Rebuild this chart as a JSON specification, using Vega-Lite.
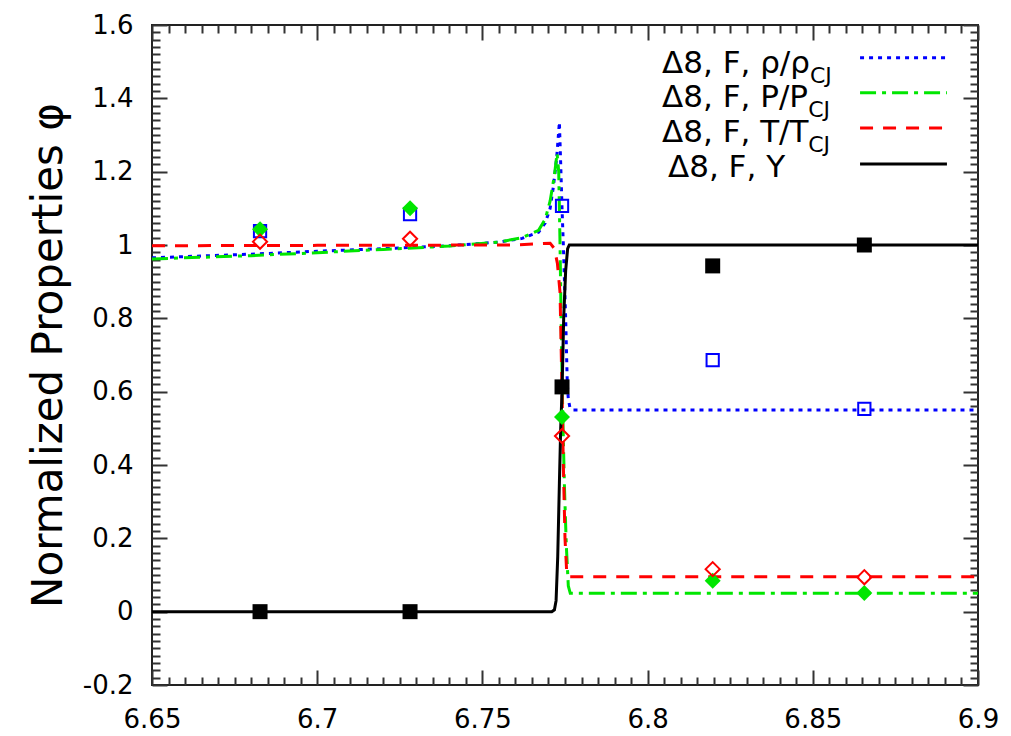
{
  "$schema": "https://vega.github.io/schema/vega-lite/v6.json",
  "width": 826,
  "height": 660,
  "autosize": {"type": "none"},
  "padding": {"left": 152, "top": 25, "right": 33, "bottom": 51},
  "background": "#ffffff",
  "config": {
    "view": {"stroke": "#222222", "strokeWidth": 2},
    "axis": {
      "domain": false,
      "ticks": true,
      "tickSize": 0,
      "tickOpacity": 0,
      "grid": true,
      "gridColor": "#333333",
      "gridWidth": 2,
      "gridOpacity": 1,
      "labelFont": "DejaVu Sans",
      "labelFontSize": 26,
      "labelColor": "#000000",
      "titleFont": "DejaVu Sans",
      "titleColor": "#000000",
      "labelFlush": false,
      "labelOverlap": false
    },
    "text": {"font": "DejaVu Sans", "color": "#000000"}
  },
  "datasets": {
    "curves": [
      {"s": "rho", "x": 6.65, "v": 0.965},
      {"s": "rho", "x": 6.68, "v": 0.975},
      {"s": "rho", "x": 6.70, "v": 0.983},
      {"s": "rho", "x": 6.72, "v": 0.99},
      {"s": "rho", "x": 6.74, "v": 0.998},
      {"s": "rho", "x": 6.755, "v": 1.008},
      {"s": "rho", "x": 6.762, "v": 1.018},
      {"s": "rho", "x": 6.767, "v": 1.035},
      {"s": "rho", "x": 6.769, "v": 1.06},
      {"s": "rho", "x": 6.7705, "v": 1.10},
      {"s": "rho", "x": 6.7715, "v": 1.16},
      {"s": "rho", "x": 6.7725, "v": 1.24},
      {"s": "rho", "x": 6.7733, "v": 1.335},
      {"s": "rho", "x": 6.7737, "v": 1.22},
      {"s": "rho", "x": 6.7741, "v": 1.10},
      {"s": "rho", "x": 6.7745, "v": 1.0},
      {"s": "rho", "x": 6.7752, "v": 0.8},
      {"s": "rho", "x": 6.7757, "v": 0.62},
      {"s": "rho", "x": 6.776, "v": 0.58},
      {"s": "rho", "x": 6.7765, "v": 0.556},
      {"s": "rho", "x": 6.7775, "v": 0.55},
      {"s": "rho", "x": 6.9, "v": 0.55},
      {"s": "P", "x": 6.65, "v": 0.962},
      {"s": "P", "x": 6.68, "v": 0.971},
      {"s": "P", "x": 6.70, "v": 0.979},
      {"s": "P", "x": 6.72, "v": 0.988},
      {"s": "P", "x": 6.74, "v": 0.997},
      {"s": "P", "x": 6.755, "v": 1.008},
      {"s": "P", "x": 6.762, "v": 1.02},
      {"s": "P", "x": 6.767, "v": 1.04},
      {"s": "P", "x": 6.769, "v": 1.07},
      {"s": "P", "x": 6.7705, "v": 1.12},
      {"s": "P", "x": 6.7718, "v": 1.19},
      {"s": "P", "x": 6.7726, "v": 1.25},
      {"s": "P", "x": 6.7731, "v": 1.2},
      {"s": "P", "x": 6.7735, "v": 1.0},
      {"s": "P", "x": 6.7739, "v": 0.75},
      {"s": "P", "x": 6.7743, "v": 0.55},
      {"s": "P", "x": 6.7748, "v": 0.35},
      {"s": "P", "x": 6.7754, "v": 0.18},
      {"s": "P", "x": 6.776, "v": 0.07},
      {"s": "P", "x": 6.7766, "v": 0.05},
      {"s": "P", "x": 6.9, "v": 0.05},
      {"s": "T", "x": 6.65, "v": 0.998},
      {"s": "T", "x": 6.70, "v": 0.999},
      {"s": "T", "x": 6.76, "v": 1.0},
      {"s": "T", "x": 6.7705, "v": 1.005},
      {"s": "T", "x": 6.7718, "v": 0.99},
      {"s": "T", "x": 6.7727, "v": 0.95},
      {"s": "T", "x": 6.7735, "v": 0.87},
      {"s": "T", "x": 6.7741, "v": 0.6},
      {"s": "T", "x": 6.7745, "v": 0.4},
      {"s": "T", "x": 6.775, "v": 0.2},
      {"s": "T", "x": 6.7755, "v": 0.11},
      {"s": "T", "x": 6.776, "v": 0.095},
      {"s": "T", "x": 6.9, "v": 0.095},
      {"s": "Y", "x": 6.65, "v": 0},
      {"s": "Y", "x": 6.771, "v": 0},
      {"s": "Y", "x": 6.7718, "v": 0.005},
      {"s": "Y", "x": 6.7723, "v": 0.03},
      {"s": "Y", "x": 6.7728, "v": 0.15},
      {"s": "Y", "x": 6.7733, "v": 0.35},
      {"s": "Y", "x": 6.7737, "v": 0.5},
      {"s": "Y", "x": 6.7741, "v": 0.6},
      {"s": "Y", "x": 6.7746, "v": 0.8},
      {"s": "Y", "x": 6.7752, "v": 0.93},
      {"s": "Y", "x": 6.7758, "v": 0.99},
      {"s": "Y", "x": 6.7763, "v": 1.0},
      {"s": "Y", "x": 6.9, "v": 1.0}
    ],
    "pts": [
      {"s": "rho", "x": 6.6827, "v": 1.038},
      {"s": "rho", "x": 6.7281, "v": 1.084},
      {"s": "rho", "x": 6.7741, "v": 1.107},
      {"s": "rho", "x": 6.8197, "v": 0.686},
      {"s": "rho", "x": 6.8656, "v": 0.553},
      {"s": "P", "x": 6.6827, "v": 1.043},
      {"s": "P", "x": 6.7281, "v": 1.1},
      {"s": "P", "x": 6.7741, "v": 0.531},
      {"s": "P", "x": 6.8197, "v": 0.084},
      {"s": "P", "x": 6.8656, "v": 0.051},
      {"s": "T", "x": 6.6827, "v": 1.009},
      {"s": "T", "x": 6.7281, "v": 1.017},
      {"s": "T", "x": 6.7741, "v": 0.479},
      {"s": "T", "x": 6.8197, "v": 0.116},
      {"s": "T", "x": 6.8656, "v": 0.094},
      {"s": "Y", "x": 6.6827, "v": 0},
      {"s": "Y", "x": 6.7281, "v": 0},
      {"s": "Y", "x": 6.7741, "v": 0.613},
      {"s": "Y", "x": 6.8197, "v": 0.943},
      {"s": "Y", "x": 6.8656, "v": 1.0}
    ]
  },
  "layer": [
    {
      "data": {"name": "curves"},
      "transform": [{"filter": "datum.s === 'rho'"}],
      "mark": {"type": "line", "color": "#0000ff", "strokeWidth": 3, "strokeDash": [4, 5]},
      "encoding": {
        "x": {"field": "x", "type": "quantitative", "scale": {"domain": [6.65, 6.9], "nice": false, "zero": false},
          "axis": {"orient": "bottom", "tickCount": 1000, "values": [6.65,6.655,6.66,6.665,6.67,6.675,6.68,6.685,6.69,6.695,6.7,6.705,6.71,6.715,6.72,6.725,6.73,6.735,6.74,6.745,6.75,6.755,6.76,6.765,6.77,6.775,6.78,6.785,6.79,6.795,6.8,6.805,6.81,6.815,6.82,6.825,6.83,6.835,6.84,6.845,6.85,6.855,6.86,6.865,6.87,6.875,6.88,6.885,6.89,6.895,6.9],
            "gridDash": {"condition": {"test": "abs(datum.value*20 - round(datum.value*20)) < 0.000001", "value": [15, 630, 15, 3000]}, "value": [8, 644, 8, 3000]},
            "labelPadding": 21,
            "labelExpr": "abs(datum.value*20 - round(datum.value*20)) < 0.000001 ? '' + datum.value : ''",
            "title": null}},
        "y": {"field": "v", "type": "quantitative", "scale": {"domain": [-0.2, 1.6], "nice": false, "zero": false},
          "axis": {"orient": "left", "tickCount": 1000, "values": [-0.2,-0.18,-0.16,-0.14,-0.12,-0.1,-0.08,-0.06,-0.04,-0.02,0,0.02,0.04,0.06,0.08,0.1,0.12,0.14,0.16,0.18,0.2,0.22,0.24,0.26,0.28,0.3,0.32,0.34,0.36,0.38,0.4,0.42,0.44,0.46,0.48,0.5,0.52,0.54,0.56,0.58,0.6,0.62,0.64,0.66,0.68,0.7,0.72,0.74,0.76,0.78,0.8,0.82,0.84,0.86,0.88,0.9,0.92,0.94,0.96,0.98,1,1.02,1.04,1.06,1.08,1.1,1.12,1.14,1.16,1.18,1.2,1.22,1.24,1.26,1.28,1.3,1.32,1.34,1.36,1.38,1.4,1.42,1.44,1.46,1.48,1.5,1.52,1.54,1.56,1.58,1.6],
            "gridDash": {"condition": {"test": "abs(datum.value*5 - round(datum.value*5)) < 0.000001", "value": [15, 796, 15, 3000]}, "value": [8, 810, 8, 3000]},
            "labelPadding": 19,
            "labelExpr": "abs(datum.value*5 - round(datum.value*5)) < 0.000001 ? '' + datum.value : ''",
            "title": "Normalized Properties φ", "titleFontSize": 42, "titleFontWeight": "normal", "titlePadding": 12}}
      }
    },
    {
      "data": {"name": "curves"},
      "transform": [{"filter": "datum.s === 'P'"}],
      "mark": {"type": "line", "color": "#00e600", "strokeWidth": 3, "strokeDash": [16, 6, 4, 6]},
      "encoding": {
        "x": {"field": "x", "type": "quantitative"},
        "y": {"field": "v", "type": "quantitative"}
      }
    },
    {
      "data": {"name": "curves"},
      "transform": [{"filter": "datum.s === 'T'"}],
      "mark": {"type": "line", "color": "#ff0000", "strokeWidth": 3, "strokeDash": [13, 10]},
      "encoding": {
        "x": {"field": "x", "type": "quantitative"},
        "y": {"field": "v", "type": "quantitative"}
      }
    },
    {
      "data": {"name": "curves"},
      "transform": [{"filter": "datum.s === 'Y'"}],
      "mark": {"type": "line", "color": "#000000", "strokeWidth": 3},
      "encoding": {
        "x": {"field": "x", "type": "quantitative"},
        "y": {"field": "v", "type": "quantitative"}
      }
    },
    {
      "data": {"name": "pts"},
      "transform": [{"filter": "datum.s === 'rho'"}],
      "mark": {"type": "point", "shape": "square", "filled": false, "color": "#0000ff", "strokeWidth": 2, "size": 150, "opacity": 1},
      "encoding": {
        "x": {"field": "x", "type": "quantitative"},
        "y": {"field": "v", "type": "quantitative"}
      }
    },
    {
      "data": {"name": "pts"},
      "transform": [{"filter": "datum.s === 'P'"}],
      "mark": {"type": "point", "shape": "diamond", "filled": true, "color": "#00e600", "size": 256, "opacity": 1},
      "encoding": {
        "x": {"field": "x", "type": "quantitative"},
        "y": {"field": "v", "type": "quantitative"}
      }
    },
    {
      "data": {"name": "pts"},
      "transform": [{"filter": "datum.s === 'T'"}],
      "mark": {"type": "point", "shape": "diamond", "filled": false, "color": "#ff0000", "strokeWidth": 2, "size": 200, "opacity": 1},
      "encoding": {
        "x": {"field": "x", "type": "quantitative"},
        "y": {"field": "v", "type": "quantitative"}
      }
    },
    {
      "data": {"name": "pts"},
      "transform": [{"filter": "datum.s === 'Y'"}],
      "mark": {"type": "point", "shape": "square", "filled": true, "color": "#000000", "size": 225, "opacity": 1},
      "encoding": {
        "x": {"field": "x", "type": "quantitative"},
        "y": {"field": "v", "type": "quantitative"}
      }
    },
    {
      "data": {"values": [{}]},
      "mark": {"type": "text", "text": "Δ8, F, ρ/ρ", "fontSize": 31, "align": "left", "baseline": "alphabetic"},
      "encoding": {"x": {"datum": 6.80436, "type": "quantitative"}, "y": {"datum": 1.4687, "type": "quantitative"}}
    },
    {
      "data": {"values": [{}]},
      "mark": {"type": "text", "text": "CJ", "fontSize": 22, "align": "left", "baseline": "alphabetic"},
      "encoding": {"x": {"datum": 6.84915, "type": "quantitative"}, "y": {"datum": 1.4414, "type": "quantitative"}}
    },
    {
      "data": {"values": [{}]},
      "mark": {"type": "text", "text": "Δ8, F, P/P", "fontSize": 31, "align": "left", "baseline": "alphabetic"},
      "encoding": {"x": {"datum": 6.80436, "type": "quantitative"}, "y": {"datum": 1.3759, "type": "quantitative"}}
    },
    {
      "data": {"values": [{}]},
      "mark": {"type": "text", "text": "CJ", "fontSize": 22, "align": "left", "baseline": "alphabetic"},
      "encoding": {"x": {"datum": 6.8486, "type": "quantitative"}, "y": {"datum": 1.3487, "type": "quantitative"}}
    },
    {
      "data": {"values": [{}]},
      "mark": {"type": "text", "text": "Δ8, F, T/T", "fontSize": 31, "align": "left", "baseline": "alphabetic"},
      "encoding": {"x": {"datum": 6.80436, "type": "quantitative"}, "y": {"datum": 1.2805, "type": "quantitative"}}
    },
    {
      "data": {"values": [{}]},
      "mark": {"type": "text", "text": "CJ", "fontSize": 22, "align": "left", "baseline": "alphabetic"},
      "encoding": {"x": {"datum": 6.8486, "type": "quantitative"}, "y": {"datum": 1.2532, "type": "quantitative"}}
    },
    {
      "data": {"values": [{}]},
      "mark": {"type": "text", "text": "Δ8, F, Y", "fontSize": 31, "align": "left", "baseline": "alphabetic"},
      "encoding": {"x": {"datum": 6.80617, "type": "quantitative"}, "y": {"datum": 1.185, "type": "quantitative"}}
    },
    {
      "data": {"values": [{}]},
      "mark": {"type": "rule", "color": "#0000ff", "strokeWidth": 3, "strokeDash": [4, 5]},
      "encoding": {"x": {"datum": 6.8643, "type": "quantitative"}, "x2": {"datum": 6.8906}, "y": {"datum": 1.511, "type": "quantitative"}}
    },
    {
      "data": {"values": [{}]},
      "mark": {"type": "rule", "color": "#00e600", "strokeWidth": 3, "strokeDash": [16, 6, 4, 6]},
      "encoding": {"x": {"datum": 6.8643, "type": "quantitative"}, "x2": {"datum": 6.8906}, "y": {"datum": 1.415, "type": "quantitative"}}
    },
    {
      "data": {"values": [{}]},
      "mark": {"type": "rule", "color": "#ff0000", "strokeWidth": 3, "strokeDash": [13, 10]},
      "encoding": {"x": {"datum": 6.8643, "type": "quantitative"}, "x2": {"datum": 6.8906}, "y": {"datum": 1.319, "type": "quantitative"}}
    },
    {
      "data": {"values": [{}]},
      "mark": {"type": "rule", "color": "#000000", "strokeWidth": 3},
      "encoding": {"x": {"datum": 6.8643, "type": "quantitative"}, "x2": {"datum": 6.8906}, "y": {"datum": 1.221, "type": "quantitative"}}
    }
  ]
}
